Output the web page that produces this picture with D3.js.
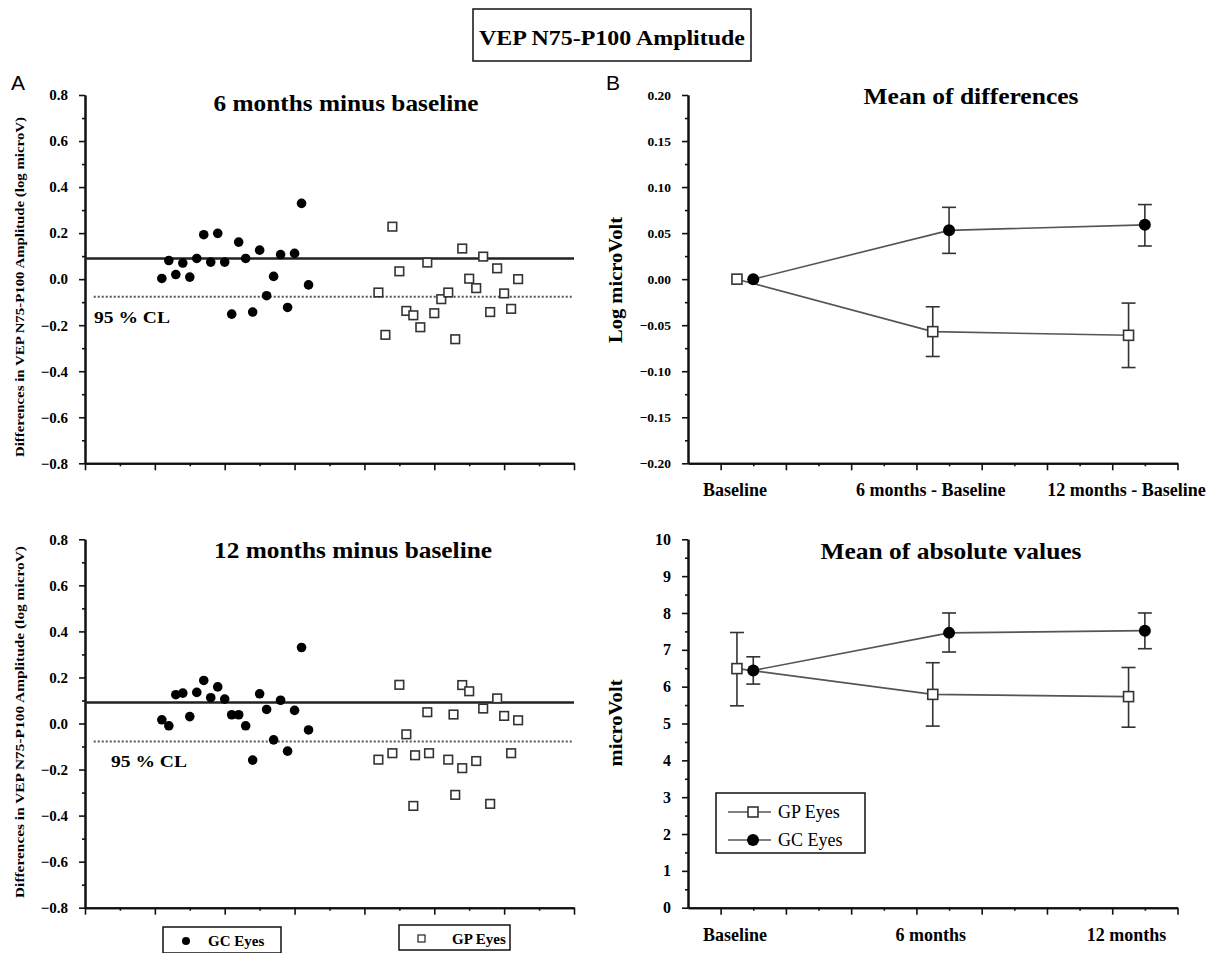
<!DOCTYPE html>
<html>
<head>
<meta charset="utf-8">
<script src="https://cdn.jsdelivr.net/npm/d3@7"></script>
<style>
  body { margin: 0; background: #fff; }
  text { font-family: "Liberation Serif", "Times New Roman", serif; }
</style>
</head>
<body>
<div id="chart"></div>
<script>
// ---- data ----
// panel A, x positions of each eye (arbitrary index axis 0..14)
const gcX = [2.2, 2.4, 2.6, 2.8, 3.0, 3.2, 3.4, 3.6, 3.8, 4.0, 4.2, 4.4, 4.6, 4.8, 5.0, 5.2, 5.4, 5.6, 5.8, 6.0, 6.2, 6.4]
const gc6 = [0.003, 0.081, 0.020, 0.070, 0.009, 0.090, 0.193, 0.074, 0.199, 0.074, -0.152, 0.161, 0.090, -0.143, 0.126, -0.072, 0.012, 0.107, -0.123, 0.112, 0.329, -0.025]
const gc12 = [0.016, -0.010, 0.125, 0.132, 0.030, 0.135, 0.187, 0.112, 0.159, 0.106, 0.038, 0.038, -0.010, -0.159, 0.129, 0.061, -0.071, 0.101, -0.120, 0.057, 0.330, -0.028]

const gpX6 = [8.4, 8.6, 8.8, 9.0, 9.2, 9.4, 9.6, 9.8, 10.0, 10.2, 10.4, 10.6, 10.8, 11.0, 11.2, 11.4, 11.6, 11.8, 12.0, 12.2, 12.4]
const gp6 = [-0.058, -0.242, 0.228, 0.034, -0.138, -0.157, -0.209, 0.072, -0.148, -0.087, -0.058, -0.261, 0.133, 0.002, -0.039, 0.098, -0.143, 0.047, -0.062, -0.129, 0.000]
const gpX12 = [8.4, 8.8, 9.0, 9.2, 9.4, 9.45, 9.8, 9.85, 10.4, 10.55, 10.6, 10.8, 10.8, 11.0, 11.2, 11.4, 11.6, 11.8, 12.0, 12.2, 12.4]
const gp12 = [-0.157, -0.129, 0.168, -0.047, -0.358, -0.138, 0.049, -0.129, -0.157, 0.039, -0.310, 0.167, -0.194, 0.140, -0.163, 0.065, -0.349, 0.109, 0.033, -0.129, 0.014]

// mean line and 95 % CL line, [6 months, 12 months]
const meanLine = [0.090, 0.091]
const clLine = [-0.076, -0.078]

// panel B
const timeLabelsDiff = ["Baseline", "6 months - Baseline", "12 months - Baseline"]
const timeLabelsAbs = ["Baseline", "6 months", "12 months"]
const gpTimeX = [1.5, 7.5, 13.5]
const gcTimeX = [2, 8, 14]

const diffGP = [0, -0.057, -0.061]
const diffGPlo = [null, -0.084, -0.096]
const diffGPhi = [null, -0.030, -0.026]
const diffGC = [0, 0.053, 0.059]
const diffGClo = [null, 0.028, 0.036]
const diffGChi = [null, 0.078, 0.081]

const absGP = [6.49, 5.79, 5.73]
const absGPlo = [5.48, 4.93, 4.90]
const absGPhi = [7.47, 6.65, 6.52]
const absGC = [6.44, 7.46, 7.52]
const absGClo = [6.07, 6.94, 7.03]
const absGChi = [6.81, 8.00, 8.00]

// ---- layout ----
const width = 1222
const height = 953

const svg = d3.select("#chart").append("svg")
    .attr("width", width)
    .attr("height", height)
svg.append("rect").attr("width", width).attr("height", height).attr("fill", "#fff")

// title box
svg.append("rect")
    .attr("x", 473).attr("y", 9).attr("width", 278).attr("height", 52)
    .attr("fill", "none").attr("stroke", "#111").attr("stroke-width", 1.5)
svg.append("text")
    .attr("x", 612).attr("y", 45)
    .attr("text-anchor", "middle")
    .attr("font-size", 21).attr("font-weight", "bold")
    .attr("textLength", 266).attr("lengthAdjust", "spacingAndGlyphs")
    .text("VEP N75-P100 Amplitude")

svg.append("text").attr("x", 11).attr("y", 90)
    .style("font-family", "'Liberation Sans', Arial, sans-serif")
    .attr("font-size", 21).text("A")
svg.append("text").attr("x", 606).attr("y", 90)
    .style("font-family", "'Liberation Sans', Arial, sans-serif")
    .attr("font-size", 21).text("B")

// scales
const xL = d3.scaleLinear().domain([0, 14]).range([85, 574])
const xR = d3.scaleLinear().domain([0, 15]).range([688, 1177.5])
const yA1 = d3.scaleLinear().domain([-0.8, 0.8]).range([463.3, 95])
const yA2 = d3.scaleLinear().domain([-0.8, 0.8]).range([907.7, 539.3])
const yB1 = d3.scaleLinear().domain([-0.2, 0.2]).range([463.3, 95])
const yB2 = d3.scaleLinear().domain([0, 10]).range([907.7, 539.3])

function styleAxis(g) {
    g.attr("font-family", null)
    g.selectAll("path").attr("stroke", "#111").attr("stroke-width", 2)
    g.selectAll("line").attr("stroke", "#111").attr("stroke-width", 1.6)
    g.selectAll("text").attr("fill", "#000").attr("font-weight", "bold")
}

function drawAxes(x, y, xMajor, xMinor, yMajor, yMinor, yFmt, fontSize) {
    const x0 = x.range()[0]
    const yb = y.range()[0]
    // minor ticks
    svg.append("g").attr("transform", `translate(0,${yb})`)
        .call(d3.axisBottom(x).tickValues(xMinor).tickSize(3).tickSizeOuter(0).tickFormat(""))
        .call(styleAxis)
    svg.append("g").attr("transform", `translate(${x0},0)`)
        .call(d3.axisLeft(y).tickValues(yMinor).tickSize(3).tickSizeOuter(0).tickFormat(""))
        .call(styleAxis)
    // major ticks
    svg.append("g").attr("transform", `translate(0,${yb})`)
        .call(d3.axisBottom(x).tickValues(xMajor).tickSize(7).tickSizeOuter(0).tickFormat(""))
        .call(styleAxis)
    const ya = svg.append("g").attr("transform", `translate(${x0},0)`)
        .call(d3.axisLeft(y).tickValues(yMajor).tickSize(6).tickSizeOuter(0).tickPadding(11).tickFormat(yFmt))
        .call(styleAxis)
    ya.selectAll("text").attr("font-size", fontSize)
}

const range = (a, b, s) => d3.range(a, b + s / 2, s).map(v => +v.toFixed(4))

// panel A axes
const axXmajL = range(0, 14, 2)
const axXminL = range(1, 13, 2)
const axYmajA = range(-0.8, 0.8, 0.2)
const axYminA = range(-0.7, 0.7, 0.2)
drawAxes(xL, yA1, axXmajL, axXminL, axYmajA, axYminA, d3.format(".1f"), 15)
drawAxes(xL, yA2, axXmajL, axXminL, axYmajA, axYminA, d3.format(".1f"), 15)

// panel B axes
const axXmajR = range(1, 15, 2)
const axXminR = range(2, 14, 2)
drawAxes(xR, yB1, axXmajR, axXminR, range(-0.2, 0.2, 0.05), range(-0.175, 0.175, 0.05), d3.format(".2f"), 13.5)
drawAxes(xR, yB2, axXmajR, axXminR, range(0, 10, 1), range(0.5, 9.5, 1), d3.format("d"), 16)

// panel titles
function title(x, y, txt, len) {
    svg.append("text").attr("x", x).attr("y", y)
        .attr("text-anchor", "middle")
        .attr("font-size", 23).attr("font-weight", "bold")
        .attr("textLength", len).attr("lengthAdjust", "spacingAndGlyphs")
        .text(txt)
}
title(346, 111, "6 months minus baseline", 265)
title(353, 558, "12 months minus baseline", 278)
title(971, 104, "Mean of differences", 215)
title(951, 559, "Mean of absolute values", 261)

// y axis titles
function yTitle(x, y, txt, size, len) {
    svg.append("text")
        .attr("transform", `translate(${x},${y}) rotate(-90)`)
        .attr("text-anchor", "middle")
        .attr("font-size", size).attr("font-weight", "bold")
        .attr("textLength", len).attr("lengthAdjust", "spacingAndGlyphs")
        .text(txt)
}
yTitle(24, 287, "Differences in VEP N75-P100 Amplitude (log microV)", 13.5, 340)
yTitle(24, 722, "Differences in VEP N75-P100 Amplitude (log microV)", 13.5, 352)
yTitle(622, 280, "Log microVolt", 18, 126)
yTitle(622, 723, "microVolt", 18, 87)

// ---- panel A marks ----
function scatterPanel(y, gcY, gpX, gpY, k, clLabelX) {
    // mean line
    svg.append("line")
        .attr("x1", xL(0)).attr("x2", xL(14))
        .attr("y1", y(meanLine[k])).attr("y2", y(meanLine[k]))
        .attr("stroke", "#222").attr("stroke-width", 2.5)
    // 95 % CL line
    svg.append("line")
        .attr("x1", xL(0.25)).attr("x2", xL(13.95))
        .attr("y1", y(clLine[k])).attr("y2", y(clLine[k]))
        .attr("stroke", "#555").attr("stroke-width", 2)
        .attr("stroke-dasharray", "2,2")
    svg.append("text")
        .attr("x", clLabelX).attr("y", y(clLine[k]) + 26)
        .attr("font-size", 17).attr("font-weight", "bold")
        .attr("textLength", 76).attr("lengthAdjust", "spacingAndGlyphs")
        .text("95 % CL")

    svg.append("g").selectAll("circle").data(gcY).join("circle")
        .attr("cx", (d, i) => xL(gcX[i]))
        .attr("cy", d => y(d))
        .attr("r", 4.8)
        .attr("fill", "#000")

    svg.append("g").selectAll("rect").data(gpY).join("rect")
        .attr("x", (d, i) => xL(gpX[i]) - 4.3)
        .attr("y", d => y(d) - 4.3)
        .attr("width", 8.6).attr("height", 8.6)
        .attr("fill", "#fff").attr("stroke", "#333").attr("stroke-width", 1.6)
}
scatterPanel(yA1, gc6, gpX6, gp6, 0, 94)
scatterPanel(yA2, gc12, gpX12, gp12, 1, 111)

// legend boxes under panel A
const legA = svg.append("g")
legA.append("rect").attr("x", 163).attr("y", 927).attr("width", 118).attr("height", 26)
    .attr("fill", "none").attr("stroke", "#111").attr("stroke-width", 1.5)
legA.append("circle").attr("cx", 186).attr("cy", 941).attr("r", 4).attr("fill", "#000")
legA.append("text").attr("x", 208).attr("y", 946).attr("font-size", 15).attr("font-weight", "bold").text("GC Eyes")
legA.append("rect").attr("x", 399).attr("y", 925).attr("width", 111).attr("height", 25)
    .attr("fill", "none").attr("stroke", "#111").attr("stroke-width", 1.5)
legA.append("rect").attr("x", 418).attr("y", 935).attr("width", 7).attr("height", 7)
    .attr("fill", "#fff").attr("stroke", "#333").attr("stroke-width", 1.3)
legA.append("text").attr("x", 452).attr("y", 944).attr("font-size", 15).attr("font-weight", "bold").text("GP Eyes")

// ---- panel B marks ----
function meanPanel(y, gp, gplo, gphi, gc, gclo, gchi, labels, labelY) {
    const line = d3.line().x(d => xR(d[0])).y(d => y(d[1]))
    const gpPts = gp.map((v, i) => [gpTimeX[i], v])
    const gcPts = gc.map((v, i) => [gcTimeX[i], v])
    svg.append("path").attr("d", line(gpPts)).attr("fill", "none").attr("stroke", "#555").attr("stroke-width", 1.6)
    svg.append("path").attr("d", line(gcPts)).attr("fill", "none").attr("stroke", "#555").attr("stroke-width", 1.6)

    const bars = []
    gp.forEach((v, i) => { if (gplo[i] != null) bars.push([gpTimeX[i], gplo[i], gphi[i]]) })
    gc.forEach((v, i) => { if (gclo[i] != null) bars.push([gcTimeX[i], gclo[i], gchi[i]]) })
    const eb = svg.append("g").attr("stroke", "#333").attr("stroke-width", 1.6)
    eb.selectAll("line.v").data(bars).join("line").attr("class", "v")
        .attr("x1", d => xR(d[0])).attr("x2", d => xR(d[0]))
        .attr("y1", d => y(d[1])).attr("y2", d => y(d[2]))
    eb.selectAll("line.t").data(bars).join("line").attr("class", "t")
        .attr("x1", d => xR(d[0]) - 7).attr("x2", d => xR(d[0]) + 7)
        .attr("y1", d => y(d[2])).attr("y2", d => y(d[2]))
    eb.selectAll("line.b").data(bars).join("line").attr("class", "b")
        .attr("x1", d => xR(d[0]) - 7).attr("x2", d => xR(d[0]) + 7)
        .attr("y1", d => y(d[1])).attr("y2", d => y(d[1]))

    svg.append("g").selectAll("rect").data(gpPts).join("rect")
        .attr("x", d => xR(d[0]) - 5).attr("y", d => y(d[1]) - 5)
        .attr("width", 10).attr("height", 10)
        .attr("fill", "#fff").attr("stroke", "#333").attr("stroke-width", 1.6)
    svg.append("g").selectAll("circle").data(gcPts).join("circle")
        .attr("cx", d => xR(d[0])).attr("cy", d => y(d[1]))
        .attr("r", 6).attr("fill", "#000")

    svg.append("g").selectAll("text").data(labels).join("text")
        .attr("x", (d, i) => xR(gpTimeX[i]) - 2)
        .attr("y", labelY)
        .attr("text-anchor", "middle")
        .attr("font-size", 18).attr("font-weight", "bold")
        .text(d => d)
}
meanPanel(yB1, diffGP, diffGPlo, diffGPhi, diffGC, diffGClo, diffGChi, timeLabelsDiff, 496)
meanPanel(yB2, absGP, absGPlo, absGPhi, absGC, absGClo, absGChi, timeLabelsAbs, 941)

// legend in the lower B panel
const legB = svg.append("g")
legB.append("rect").attr("x", 716).attr("y", 793).attr("width", 149).attr("height", 60)
    .attr("fill", "#fff").attr("stroke", "#111").attr("stroke-width", 1.5)
const legItems = ["GP Eyes", "GC Eyes"]
legItems.forEach((name, i) => {
    const cy = 812 + i * 28
    legB.append("line").attr("x1", 728).attr("x2", 771).attr("y1", cy).attr("y2", cy)
        .attr("stroke", "#555").attr("stroke-width", 1.6)
    if (i === 0) {
        legB.append("rect").attr("x", 748).attr("y", cy - 5).attr("width", 10).attr("height", 10)
            .attr("fill", "#fff").attr("stroke", "#333").attr("stroke-width", 1.6)
    } else {
        legB.append("circle").attr("cx", 753).attr("cy", cy).attr("r", 6).attr("fill", "#000")
    }
    legB.append("text").attr("x", 778).attr("y", cy + 6).attr("font-size", 18).text(name)
})
</script>
</body>
</html>
